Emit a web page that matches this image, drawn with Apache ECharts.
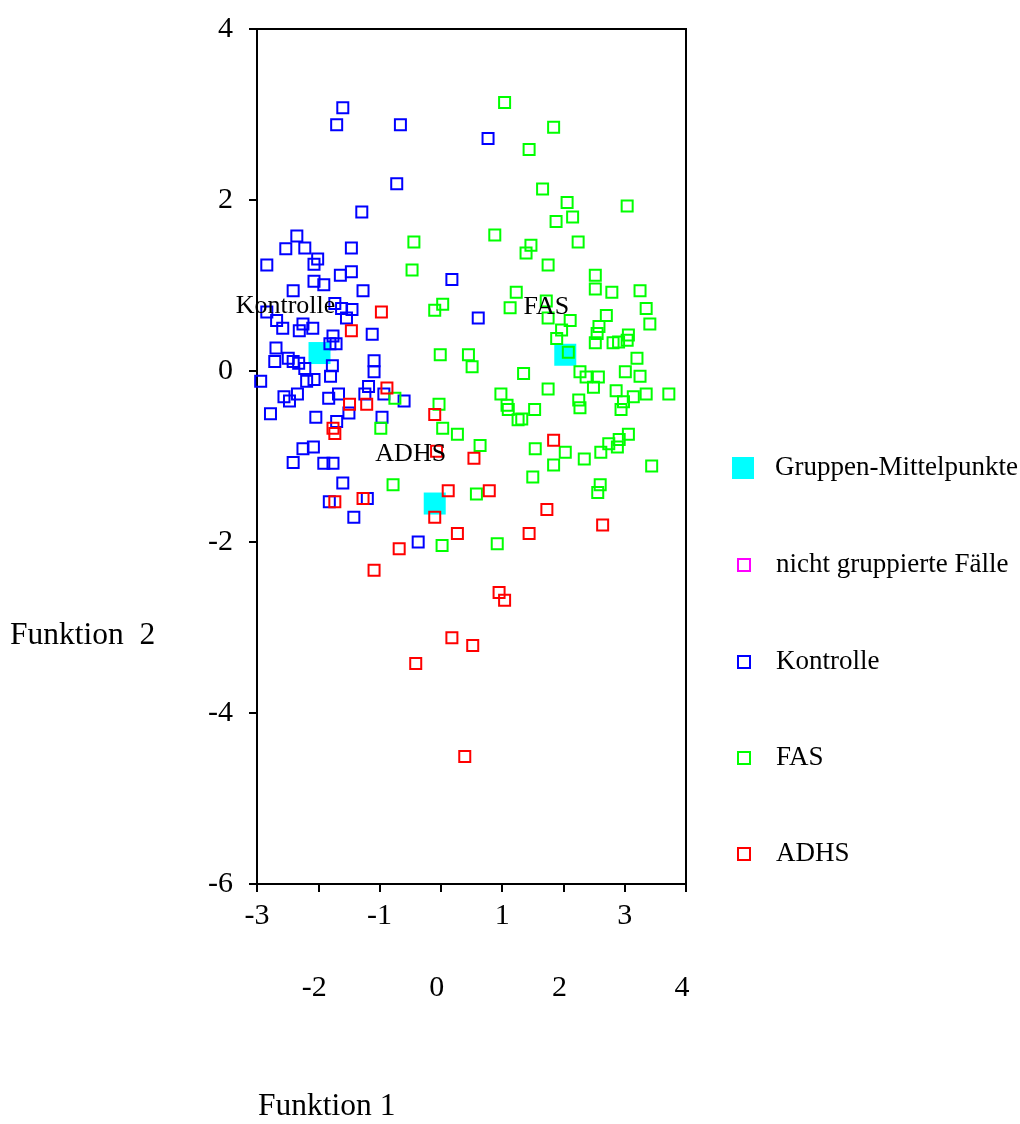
<!DOCTYPE html>
<html>
<head>
<meta charset="utf-8">
<script src="https://cdn.jsdelivr.net/npm/echarts@6/dist/echarts.min.js"></script>
<style>
html,body{margin:0;padding:0;background:#fff;}
#chart{width:1020px;height:1124px;}
</style>
</head>
<body>
<div id="chart"></div>
<script>
// ---- data (Funktion 1 = x, Funktion 2 = y) ----
const kontrolleX = [-1.60,-1.70,-0.66,0.77,-0.72,-1.29,-2.35,-2.53,-2.22,-2.01,
  -2.07,-2.84,-1.46,-1.46,-1.64,-2.07,-1.91,0.18,-2.41,-1.27,
  -2.84,-2.68,-1.73,-1.62,-1.45,-1.54,-2.58,-2.25,-2.31,-2.09,
  -1.12,-1.76,-1.71,-1.81,-2.69,-2.49,-2.71,-2.41,-2.32,-2.22,
  -1.77,-1.80,-1.09,-1.09,-2.94,-2.19,-2.07,-2.56,-2.47,-2.34,
  -1.83,-1.67,-1.24,-1.18,-0.93,-0.60,-1.50,-2.04,-2.78,-0.96,
  -1.70,-2.25,-2.08,-2.41,-1.91,-1.76,-1.60,-1.82,-1.20,-1.42,
  -0.37,0.61];
const kontrolleY = [3.08,2.88,2.88,2.72,2.19,1.86,1.58,1.43,1.44,1.31,
  1.25,1.24,1.44,1.16,1.12,1.05,1.01,1.07,0.94,0.94,
  0.69,0.59,0.79,0.73,0.72,0.62,0.50,0.55,0.47,0.50,
  0.43,0.41,0.32,0.32,0.27,0.15,0.11,0.11,0.09,0.03,
  0.06,-0.06,0.12,-0.01,-0.12,-0.12,-0.10,-0.30,-0.35,-0.27,
  -0.32,-0.27,-0.27,-0.18,-0.27,-0.35,-0.49,-0.54,-0.50,-0.54,
  -0.59,-0.91,-0.89,-1.07,-1.08,-1.08,-1.31,-1.53,-1.49,-1.71,
  -2.00,0.62];

const fasX = [-0.44,-0.47,0.03,-0.10,-0.01,0.45,0.51,-0.75,-0.98,-0.03,
  0.03,0.27,-0.78,0.02,1.84,2.34,3.44,1.50,2.60,2.56,
  0.58,0.92,1.04,1.84,1.44,1.66,2.06,3.04,1.88,2.15,
  0.88,1.47,1.39,1.75,2.52,2.24,2.52,1.23,2.79,3.25,
  1.13,1.72,1.75,3.35,2.11,2.70,3.41,1.97,2.58,2.55,
  1.89,2.52,2.81,2.90,3.04,3.06,2.08,3.20,1.35,2.27,
  2.37,2.57,3.01,3.25,2.49,1.75,0.98,2.86,3.14,3.35,
  3.72,2.25,2.27,2.98,2.94,1.08,1.10,1.53,1.26,1.32,
  0.64,1.54,2.03,2.61,2.74,2.91,2.88,3.06];
const fasY = [1.51,1.18,0.78,0.71,0.19,0.19,0.05,-0.32,-0.67,-0.39,
  -0.67,-0.74,-1.33,-2.04,-1.10,-1.03,-1.11,-1.24,-1.33,-1.42,
  -1.44,-2.02,3.14,2.85,2.59,2.13,1.97,1.93,1.75,1.80,
  1.59,1.47,1.38,1.24,1.12,1.51,0.96,0.92,0.92,0.94,
  0.74,0.82,0.62,0.73,0.59,0.65,0.55,0.48,0.52,0.44,
  0.38,0.33,0.33,0.34,0.36,0.42,0.22,0.15,-0.03,-0.01,
  -0.07,-0.07,-0.01,-0.06,-0.19,-0.21,-0.27,-0.23,-0.30,-0.27,
  -0.27,-0.34,-0.43,-0.36,-0.45,-0.40,-0.45,-0.45,-0.57,-0.56,
  -0.87,-0.91,-0.95,-0.95,-0.85,-0.80,-0.89,-0.74];

const adhsX = [-0.97,-1.46,-0.88,-1.49,-1.21,-1.76,-1.73,-0.10,-0.07,0.54,
  1.84,-1.73,-1.27,0.12,-0.10,0.27,-0.68,-1.09,0.79,1.73,
  2.64,1.44,0.95,1.04,0.18,0.52,-0.41,0.39];
const adhsY = [0.69,0.47,-0.20,-0.39,-0.39,-0.67,-0.73,-0.51,-0.94,-1.02,
  -0.81,-1.53,-1.49,-1.40,-1.71,-1.90,-2.08,-2.33,-1.40,-1.62,
  -1.80,-1.90,-2.59,-2.68,-3.12,-3.21,-3.42,-4.51];

const centroidNames = ['Kontrolle', 'FAS', 'ADHS'];
const centroidX = [-1.98, 2.03, -0.10];
const centroidY = [0.21, 0.19, -1.55];

const legendNames = ['Gruppen-Mittelpunkte', 'nicht gruppierte Fälle', 'Kontrolle', 'FAS', 'ADHS'];

const xTicks = {min: -3, max: 4, interval: 1};
const yTicks = {min: -6, max: 4, interval: 2};

// ---- styling ----
const FONT = '"Liberation Serif", "Times New Roman", serif';
const colors = {
  'Gruppen-Mittelpunkte': '#00ffff',
  'nicht gruppierte Fälle': '#ff00ff',
  'Kontrolle': '#0000ff',
  'FAS': '#00ff00',
  'ADHS': '#ff0000'
};
const centroidLabelOffsets = [[-34, -47], [-19, -48], [-24, -49]];
const legendRowsY = [467, 564, 661, 757, 853];

function zip(xs, ys) { return xs.map((x, i) => [x, ys[i]]); }

function hollowSeries(name, xs, ys, z) {
  return {
    type: 'scatter', name: name, z: z,
    xAxisIndex: 0, yAxisIndex: 0,
    symbol: 'rect', symbolSize: 11,
    itemStyle: {color: 'rgba(0,0,0,0)', borderColor: colors[name], borderWidth: 2, opacity: 1},
    data: zip(xs, ys)
  };
}

const legends = legendNames.map((name, i) => {
  const big = i === 0;
  const w = big ? 22 : 12;
  return {
    orient: 'vertical',
    left: 738 - w / 2,
    top: legendRowsY[i] - 19,
    itemWidth: w, itemHeight: w,
    selectedMode: false,
    textStyle: {fontFamily: FONT, fontSize: 27, color: '#000', lineHeight: 30,
      padding: [0, 0, 0, big ? 16 : 21]},
    data: [{
      name: name, icon: 'rect',
      itemStyle: big ? {color: colors[name], borderWidth: 0, opacity: 1}
                     : {color: 'rgba(0,0,0,0)', borderColor: colors[name], borderWidth: 2, opacity: 1}
    }]
  };
});

const xAxisBase = {
  type: 'value', min: xTicks.min, max: xTicks.max, interval: xTicks.interval,
  splitLine: {show: false}
};

const option = {
  animation: false,
  backgroundColor: '#fff',
  grid: {left: 257, top: 29, right: 334, bottom: 240, show: true,
    borderColor: '#000', borderWidth: 2, backgroundColor: 'transparent'},
  legend: legends,
  xAxis: [
    Object.assign({}, xAxisBase, {
      position: 'bottom',
      axisLine: {show: true, onZero: false, lineStyle: {color: '#000', width: 2}},
      axisTick: {show: true, inside: false, length: 8, lineStyle: {color: '#000', width: 2}},
      axisLabel: {show: true, margin: 17, fontFamily: FONT, fontSize: 30, color: '#000',
        formatter: v => (Math.abs(Math.round(v)) % 2 === 1 ? String(v) : '')}
    }),
    Object.assign({}, xAxisBase, {
      position: 'bottom', offset: 0,
      axisLine: {show: false}, axisTick: {show: false},
      axisLabel: {show: true, margin: 89, fontFamily: FONT, fontSize: 30, color: '#000',
        padding: [0, 8, 0, 0],
        formatter: v => (Math.abs(Math.round(v)) % 2 === 0 ? String(v) : '')}
    })
  ],
  yAxis: {
    type: 'value', min: yTicks.min, max: yTicks.max, interval: yTicks.interval,
    splitLine: {show: false},
    axisLine: {show: true, onZero: false, lineStyle: {color: '#000', width: 2}},
    axisTick: {show: true, inside: false, length: 8, lineStyle: {color: '#000', width: 2}},
    axisLabel: {margin: 24, fontFamily: FONT, fontSize: 30, color: '#000', padding: [0, 0, 12, 0]}
  },
  graphic: [
    {type: 'text', left: 10, top: 620,
      style: {text: 'Funktion  2', font: '31.5px ' + FONT, fill: '#000'}},
    {type: 'text', left: 258, top: 1091,
      style: {text: 'Funktion 1', font: '31.5px ' + FONT, fill: '#000'}}
  ],
  series: [
    {
      type: 'scatter', name: 'Gruppen-Mittelpunkte', z: 1,
      symbol: 'rect', symbolSize: 22,
      itemStyle: {color: colors['Gruppen-Mittelpunkte'], opacity: 1},
      data: zip(centroidX, centroidY)
    },
    {type: 'scatter', name: 'nicht gruppierte Fälle', symbol: 'rect', symbolSize: 11,
      itemStyle: {color: 'rgba(0,0,0,0)', borderColor: colors['nicht gruppierte Fälle'], borderWidth: 2, opacity: 1},
      data: []},
    hollowSeries('Kontrolle', kontrolleX, kontrolleY, 2),
    hollowSeries('FAS', fasX, fasY, 3),
    hollowSeries('ADHS', adhsX, adhsY, 4),
    {
      type: 'scatter', name: '__labels', z: 10,
      symbol: 'rect', symbolSize: 1,
      itemStyle: {color: 'rgba(0,0,0,0)', opacity: 1},
      data: centroidNames.map((n, i) => ({
        name: n, value: [centroidX[i], centroidY[i]],
        label: {show: true, position: 'inside', offset: centroidLabelOffsets[i], opacity: 1,
          formatter: '{b}', fontFamily: FONT, fontSize: 26, color: '#000'}
      }))
    }
  ]
};

const chart = echarts.init(document.getElementById('chart'), null, {renderer: 'canvas'});
chart.setOption(option);
</script>
</body>
</html>
